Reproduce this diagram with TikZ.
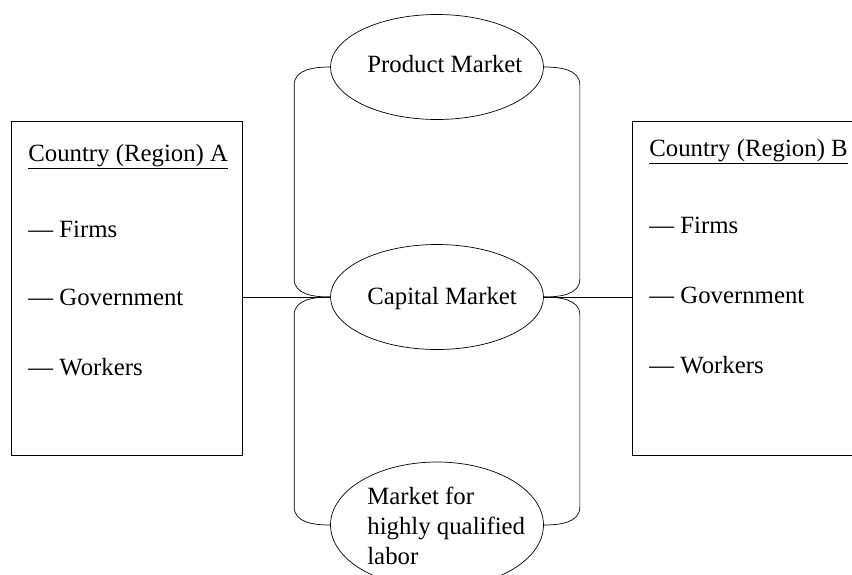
\documentclass[tikz,border=0pt]{standalone}
\usepackage{fontspec}
\setmainfont{Liberation Serif}
\usetikzlibrary{calc}
\usetikzlibrary{shapes.geometric}
\tikzstyle{market}=[draw,ellipse,minimum width=213pt,minimum height=105pt,inner sep=0pt]
\tikzstyle{country}=[draw,rectangle,minimum width=231pt,minimum height=334pt,inner sep=0pt]
\tikzstyle{entry}=[anchor=base west,inner sep=0pt]
\pgfmathsetmacro{\bendx}{36}
\pgfmathsetmacro{\bendy}{18}
\newcommand{\drawbend}[4]{
\pgfmathsetmacro{\bendsign}{#4}
\pgfmathsetmacro{\bendang}{90-#4*90}
\draw (#1.#3) to[out=\bendang,in=90] ($(#1.#3)+(\bendsign*\bendx,-\bendy)$) -- ($(#2.#3)+(\bendsign*\bendx,\bendy)$) to[out=-90,in=\bendang] (#2.#3);
}

\begin{document}
\begin{tikzpicture}[x=1pt,y=1pt,line width=0.7pt,font=\fontsize{24.8pt}{30pt}\selectfont]
  \useasboundingbox (0,0) rectangle (852,-574);
  % markets
  \node[market] (pm) at (437,-67) {};
  \node[market] (cm) at (437,-297) {};
  \node[market,minimum height=126pt] (lm) at (437,-525) {};
  \node[entry] (pmtext) at (367,-72) {Product Market};
  \node[entry] (cmtext) at (367,-304) {Capital Market};
  \node[anchor=north west,inner sep=0pt,align=left] (lmtext) at (367,-487) {Market for\\highly qualified\\labor};
  % countries
  \node[country] (ca) at (126.5,-288.5) {};
  \node[country] (cb) at (747.5,-288) {};
  \node[entry] (catitle) at (28,-161) {\underline{Country (Region) A}};
  \node[entry] (cafirms) at (28,-237) {--- Firms};
  \node[entry] (cagov) at (28,-305) {--- Government};
  \node[entry] (caworkers) at (28,-375) {--- Workers};
  \node[entry] (cbtitle) at (649,-156) {\underline{Country (Region) B}};
  \node[entry] (cbfirms) at (649,-233) {--- Firms};
  \node[entry] (cbgov) at (649,-303) {--- Government};
  \node[entry] (cbworkers) at (649,-373) {--- Workers};
  % links
  \drawbend{pm}{cm}{west}{-1}
  \drawbend{pm}{cm}{east}{1}
  \drawbend{cm}{lm}{west}{-1}
  \drawbend{cm}{lm}{east}{1}
  \draw (cm.west) -- (cm.west -| ca.east);
  \draw (cm.east) -- (cm.east -| cb.west);
\end{tikzpicture}
\end{document}
